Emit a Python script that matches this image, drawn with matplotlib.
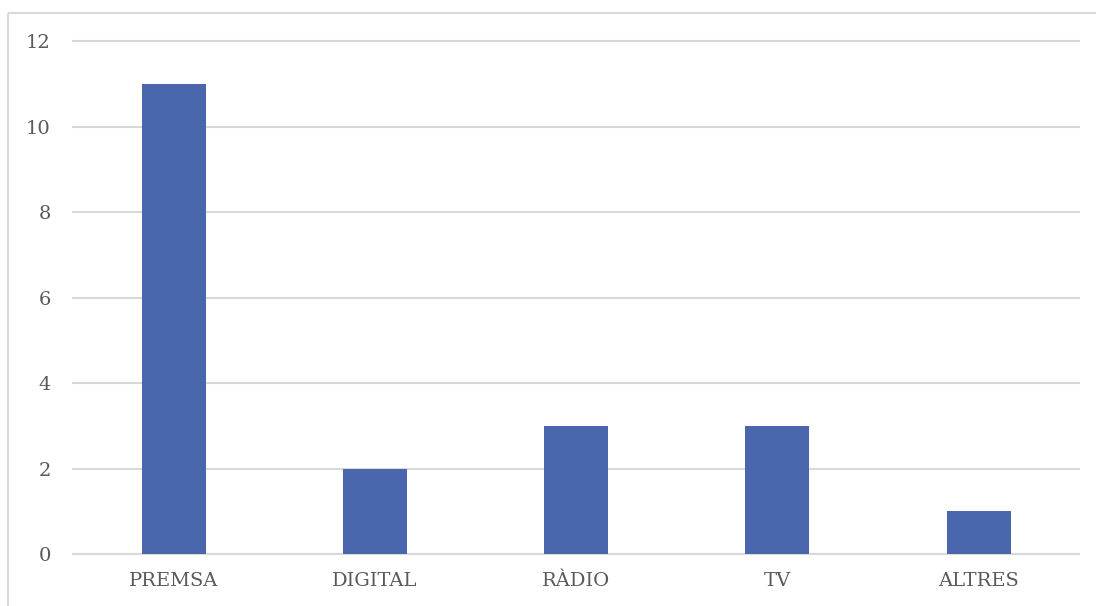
import matplotlib.pyplot as plt
from matplotlib.lines import Line2D

categories = ["PREMSA", "DIGITAL", "RÀDIO", "TV", "ALTRES"]
values = [11, 2, 3, 3, 1]
yticks = [0, 2, 4, 6, 8, 10, 12]

bar_color = "#4A66AC"
grid_color = "#D9D9D9"
text_color = "#595959"

plt.rcParams['font.family'] = ['DejaVu Serif']

fig = plt.figure(figsize=(10.96, 6.06), dpi=100)
ax = fig.add_axes([0.0666, 0.0858, 0.918, 0.8465])

# outer chart frame: only the top and left edges fall inside the image
frame_x = 7.5 / 1096
frame_y = 1 - 12.5 / 606
fig.lines.append(Line2D([frame_x, 1.05], [frame_y, frame_y], transform=fig.transFigure,
                        color=grid_color, linewidth=1.5, solid_capstyle="butt"))
fig.lines.append(Line2D([frame_x, frame_x], [-0.05, frame_y], transform=fig.transFigure,
                        color=grid_color, linewidth=1.5, solid_capstyle="butt"))

x = range(len(categories))
ax.bar(x, values, width=0.318, color=bar_color, zorder=3)

ax.set_xlim(-0.5, len(categories) - 0.5)
ax.set_ylim(0, 12)
ax.set_yticks(yticks)
ax.set_xticks(list(x))
ax.set_xticklabels(categories)
ax.yaxis.grid(True, color=grid_color, linewidth=1.5, zorder=0)
for gl in ax.get_ygridlines():
    gl.set_clip_on(False)
ax.set_axisbelow(True)

for side in ["top", "right", "left"]:
    ax.spines[side].set_visible(False)
ax.spines["bottom"].set_color(grid_color)
ax.spines["bottom"].set_linewidth(1.5)

ax.tick_params(axis="both", length=0, labelsize=14, labelcolor=text_color)
ax.tick_params(axis="y", pad=16)
ax.tick_params(axis="x", pad=13)

fig.savefig("out.png", dpi=100)
